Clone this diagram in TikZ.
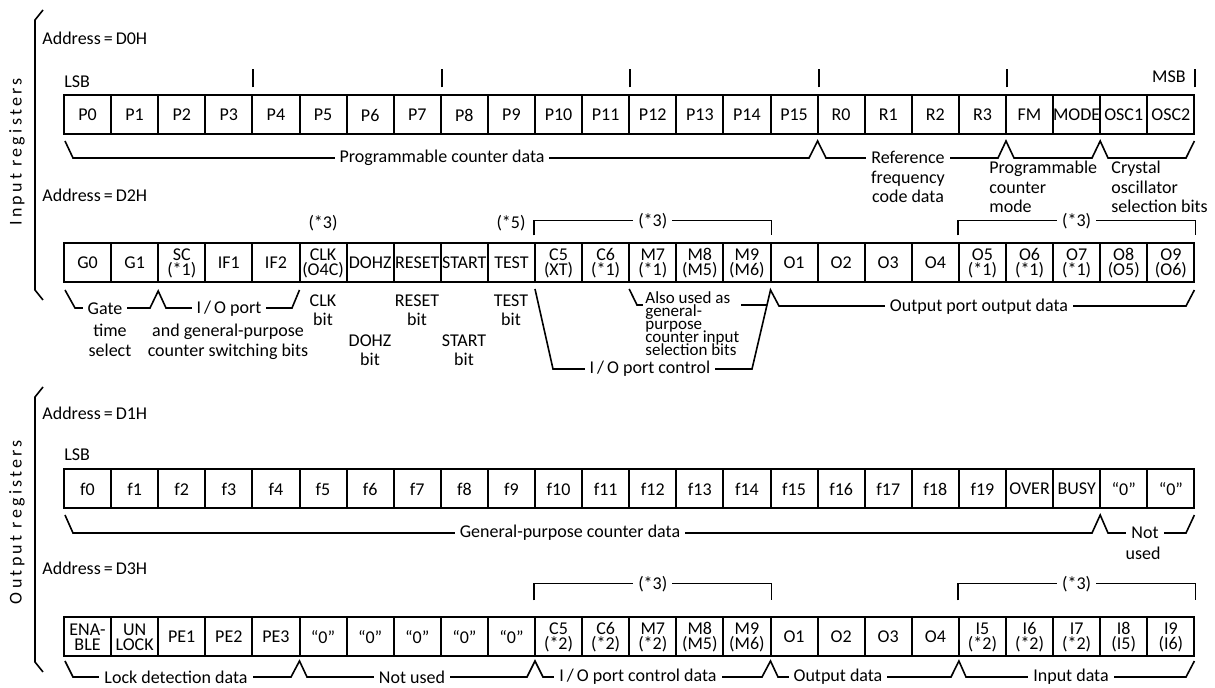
\documentclass[tikz,border=0pt]{standalone}
\usepackage{fontspec}
\setmainfont{Carlito}
\newfontfamily\sidefont[LetterSpace=18]{Carlito}
\usepackage{tikz}
\usetikzlibrary{calc}
\newcommand\tightskip{\lineskiplimit=-5pt\relax}
\tikzset{
  regcell/.style={
    draw,
    line width=1pt,
    minimum width=23.55pt,
    minimum height=19.5pt,
    inner sep=0pt,
    align=center,
    font=\fontsize{9}{7.5}\selectfont\tightskip
  },
  bracepath/.style={line width=0.8pt},
  bracelabel/.style={fill=white, inner xsep=2.5pt, inner ysep=1pt, align=center, font=\fontsize{9}{9.75}\selectfont},
  notelabel/.style={inner sep=0pt, align=center, font=\fontsize{9}{9.75}\selectfont},
  addrlabel/.style={anchor=west, inner sep=0pt, font=\fontsize{9}{10}\selectfont},
  sidelabel/.style={rotate=90, inner sep=0pt, font=\sidefont\fontsize{9}{10}\selectfont},
  tickline/.style={line width=1pt}
}

\begin{document}
\begin{tikzpicture}[x=0.5pt, y=-0.5pt]
\useasboundingbox (0,0) rectangle (1215,688);

\draw[bracepath] (43,10) -- (35,20) -- (35,290) -- (43,300);
\draw[bracepath] (43,387) -- (35,397) -- (35,662) -- (43,672);
\node[sidelabel] (inregs) at (17,152) {Input registers};
\node[sidelabel] (outregs) at (17,522) {Output registers};

\node[addrlabel] (addrA) at (42,38) {Address\,=\,D0H};
\node[addrlabel] (addrB) at (42,195) {Address\,=\,D2H};
\node[addrlabel] (addrC) at (42,413) {Address\,=\,D1H};
\node[addrlabel] (addrD) at (42,568) {Address\,=\,D3H};
\node[addrlabel] (lsbA) at (64,82) {LSB};
\node[addrlabel] (lsbC) at (64,455) {LSB};
\node[addrlabel, anchor=east] (msbA) at (1186,77) {MSB};

\foreach \lab [count=\i from 0] in {P0,P1,P2,P3,P4,P5,P6,P7,P8,P9,P10,P11,P12,P13,P14,P15,R0,R1,R2,R3,FM,MODE,OSC1,OSC2}
  \node[regcell] (ra\i) at ({87.55+47.1*\i},115) {\lab};
\foreach \lab [count=\i from 0] in {G0,G1,{SC\\(*1)},IF1,IF2,{CLK\\(O4C)},DOHZ,RESET,START,TEST,{C5\\(XT)},{C6\\(*1)},{M7\\(*1)},{M8\\(M5)},{M9\\(M6)},O1,O2,O3,O4,{O5\\(*1)},{O6\\(*1)},{O7\\(*1)},{O8\\(O5)},{O9\\(O6)}}
  \node[regcell] (rb\i) at ({87.55+47.1*\i},263) {\lab};
\foreach \lab [count=\i from 0] in {f0,f1,f2,f3,f4,f5,f6,f7,f8,f9,f10,f11,f12,f13,f14,f15,f16,f17,f18,f19,OVER,BUSY,“0”,“0”}
  \node[regcell] (rc\i) at ({87.55+47.1*\i},489) {\lab};
\foreach \lab [count=\i from 0] in {{ENA-\\BLE},{UN\\LOCK},PE1,PE2,PE3,“0”,“0”,“0”,“0”,“0”,{C5\\(*2)},{C6\\(*2)},{M7\\(*2)},{M8\\(M5)},{M9\\(M6)},O1,O2,O3,O4,{I5\\(*2)},{I6\\(*2)},{I7\\(*2)},{I8\\(I5)},{I9\\(I6)}}
  \node[regcell] (rd\i) at ({87.55+47.1*\i},637) {\lab};

\foreach \k in {3,7,11,15,19,23}
  \draw[tickline] ([yshift=3.5pt]ra\k.north east) -- ++(0,9pt);

\draw[bracepath] (65,141) -- (73,158) -- (809,158) -- (817.6,141) -- (826,158) -- (998,158) -- (1006,141) -- (1014,158) -- (1092,158) -- (1100.2,141) -- (1108,158) -- (1186,158) -- (1194.4,141);
\node[bracelabel] (pcdata) at (442,158) {Programmable counter data};
\node[bracelabel, anchor=north] (refdata) at (908,149) {Reference\\frequency\\code data};
\node[notelabel, anchor=north west, align=left] (pcmode) at (989,161) {Programmable\\counter\\mode};
\node[notelabel, anchor=north west, align=left] (oscsel) at (1111,161) {Crystal\\oscillator\\selection bits};

\node[notelabel] (clknote) at (323,223) {(*3)};
\node[notelabel] (testnote) at (511,223) {(*5)};
\draw[bracepath] ([yshift=3.5pt]rb10.north west) -- ++(0,7.5pt) -| ([yshift=3.5pt]rb14.north east);
\node[bracelabel] (cmnote) at ($(rb12.north)+(0,10.75pt)$) {(*3)};
\draw[bracepath] ([yshift=3.5pt]rb19.north west) -- ++(0,7.5pt) -| ([yshift=3.5pt]rb23.north east);
\node[bracelabel] (onote) at ($(rb21.north)+(0,10.75pt)$) {(*3)};

\draw[bracepath] (65,290) -- (75,308) -- (150,308) -- (158.2,291) -- (166,308) -- (292,308) -- (299.5,290);
\node[bracelabel] (gatelab) at (105,309) {Gate};
\node[notelabel, anchor=north] (gatesub) at (110,324) {time\\select};
\node[bracelabel] (iolab) at (229,309) {I\,/\,O port};
\node[notelabel, anchor=north] (iosub) at (228,324) {and general-purpose\\counter switching bits};
\node[notelabel, anchor=north] (clkbit) at (323,294) {CLK\\bit};
\node[notelabel, anchor=north] (dohzbit) at (370,334) {DOHZ\\bit};
\node[notelabel, anchor=north] (resetbit) at (417,294) {RESET\\bit};
\node[notelabel, anchor=north] (startbit) at (464,334) {START\\bit};
\node[notelabel, anchor=north] (testbit) at (511,294) {TEST\\bit};

\draw[bracepath] (535,289) -- (553,369) -- (752,369) -- (770.5,290) -- (779,306) -- (1186,306) -- (1194.4,290);
\draw[bracepath] (629.2,289) -- (637,305) -- (767,305);
\node[bracelabel, anchor=north west, align=left, inner xsep=1pt, inner ysep=0pt, font=\fontsize{8.5}{6.6}\selectfont\tightskip] (alsoused) at (643,291) {Also used as\\general-\\purpose\\counter input\\selection bits};
\node[bracelabel, inner ysep=0pt] (ioctl) at (650,369) {I\,/\,O port control};
\node[bracelabel] (outport) at (979,307) {Output port output data};

\draw[bracepath] (65,515) -- (73,533) -- (1092,533) -- (1100.2,515) -- (1108,533) -- (1186,533) -- (1194.4,515);
\node[bracelabel] (gpdata) at (570,533) {General-purpose counter data};
\node[bracelabel] (notA) at (1145,533) {Not};
\node[notelabel] (usedA) at (1143,553) {used};

\draw[bracepath] ([yshift=8pt]rd10.north west) -- ++(0,8.5pt) -| ([yshift=8pt]rd14.north east);
\node[bracelabel] (cmnoteD) at ($(rd12.north)+(0,16.25pt)$) {(*3)};
\draw[bracepath] ([yshift=8pt]rd19.north west) -- ++(0,8.5pt) -| ([yshift=8pt]rd23.north east);
\node[bracelabel] (inoteD) at ($(rd21.north)+(0,16.25pt)$) {(*3)};

\draw[bracepath] (65,661) -- (73,677) -- (291,677) -- (299.5,661) -- (307,677) -- (527,677) -- (535,661) -- (543,677) -- (762,677) -- (770.5,661) -- (778,677) -- (951,677) -- (958.9,661) -- (966,677) -- (1186,677) -- (1194.4,661);
\node[bracelabel] (lockdet) at (176,677) {Lock detection data};
\node[bracelabel] (notusedD) at (412,677) {Not used};
\node[bracelabel] (ioctldata) at (638,677) {I\,/\,O port control data};
\node[bracelabel] (outdata) at (838,677) {Output data};
\node[bracelabel] (indata) at (1071,677) {Input data};
\end{tikzpicture}
\end{document}
